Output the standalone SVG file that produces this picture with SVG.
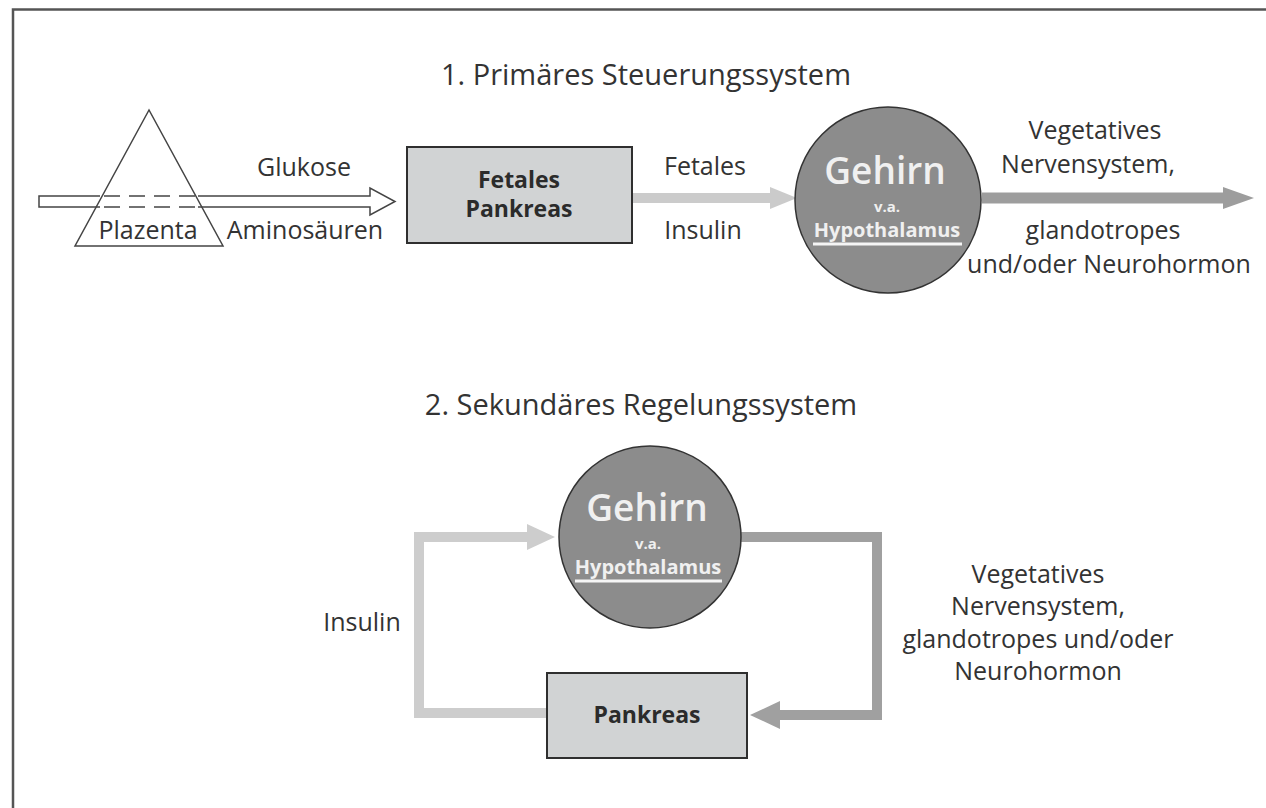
<svg xmlns="http://www.w3.org/2000/svg" width="1266" height="808" viewBox="0 0 1266 808">
  <style>
    .lbl { font-family: "Open Sans", "Noto Sans", sans-serif; font-size: 25px; fill: #333; }
    .title { font-family: "Open Sans", "Noto Sans", sans-serif; font-size: 29px; fill: #333; }
    .boxtxt { font-family: "Open Sans", "Noto Sans", sans-serif; font-size: 23px; font-weight: 700; fill: #2b2b2b; }
    .box { fill: #d1d3d4; stroke: #2f2f2f; stroke-width: 2; }
    .brain { fill: #8c8c8c; stroke: #333; stroke-width: 1.5; }
    .bt1 { font-family: "Open Sans", "Noto Sans", sans-serif; font-size: 37px; font-weight: 600; fill: #f0f0f0; }
    .bt2 { font-family: "Open Sans", "Noto Sans", sans-serif; font-size: 15px; font-weight: 700; fill: #f0f0f0; }
    .bt3 { font-family: "Open Sans", "Noto Sans", sans-serif; font-size: 20px; font-weight: 700; fill: #f0f0f0; }
    .uline { stroke: #f5f5f5; stroke-width: 3; }
    .outline { fill: none; stroke: #444; stroke-width: 1.5; }
    .light { fill: none; stroke: #cdcdcd; stroke-width: 10; stroke-linejoin: miter; }
    .dark { fill: none; stroke: #a0a0a0; stroke-width: 10; stroke-linejoin: miter; }
  </style>

  <!-- frame -->
  <rect x="13" y="9.5" width="1300" height="900" fill="none" stroke="#555" stroke-width="2.5"/>

  <!-- section titles -->
  <text class="title" x="646" y="85" text-anchor="middle">1. Primäres Steuerungssystem</text>
  <text class="title" x="641" y="415" text-anchor="middle">2. Sekundäres Regelungssystem</text>

  <!-- connectors -->
  <g id="connectors">
    <!-- hollow double-line arrow through the placenta -->
    <g id="nutrient-arrow">
      <path class="outline" d="M100,196 H39 V207 H100"/>
      <path class="outline" d="M104,196 H198 M104,207 H198" stroke-dasharray="16 9"/>
      <path class="outline" d="M198,196 H370 V188 L395,201.5 L370,215 V207 H198"/>
    </g>
    <!-- fetal insulin -->
    <line x1="633" y1="198" x2="772" y2="198" stroke="#cbcbcb" stroke-width="10"/>
    <polygon points="770,187 797,198 770,209" fill="#cbcbcb"/>
    <!-- output of the brain -->
    <line x1="982" y1="198" x2="1226" y2="198" stroke="#9d9d9d" stroke-width="11"/>
    <polygon points="1223,187 1254,198 1223,209" fill="#9d9d9d"/>
    <!-- feedback loop: insulin to brain -->
    <polyline class="light" points="547,713 419,713 419,537 530,537"/>
    <polygon points="527,524 555,537 527,550" fill="#cdcdcd"/>
    <!-- feedback loop: brain to pancreas -->
    <polyline class="dark" points="739,537 877,537 877,715 778,715"/>
    <polygon points="780,701 750,715 780,729" fill="#a0a0a0"/>
  </g>

  <!-- placenta -->
  <g id="plazenta">
    <polygon points="149,110 75,246 223,246" fill="none" stroke="#444" stroke-width="1.5"/>
    <text class="lbl" x="148" y="239" text-anchor="middle">Plazenta</text>
  </g>

  <!-- edge labels -->
  <text class="lbl" x="304" y="176" text-anchor="middle">Glukose</text>
  <text class="lbl" x="305" y="239" text-anchor="middle">Aminosäuren</text>
  <text class="lbl" x="705" y="175" text-anchor="middle">Fetales</text>
  <text class="lbl" x="703" y="239" text-anchor="middle">Insulin</text>
  <text class="lbl" x="1095" y="139" text-anchor="middle">Vegetatives</text>
  <text class="lbl" x="1088" y="173" text-anchor="middle">Nervensystem,</text>
  <text class="lbl" x="1103" y="239" text-anchor="middle">glandotropes</text>
  <text class="lbl" x="1109" y="273" text-anchor="middle">und/oder Neurohormon</text>
  <text class="lbl" x="362" y="631" text-anchor="middle">Insulin</text>
  <text class="lbl" x="1038" y="583" text-anchor="middle">Vegetatives</text>
  <text class="lbl" x="1038" y="615" text-anchor="middle">Nervensystem,</text>
  <text class="lbl" x="1038" y="648" text-anchor="middle">glandotropes und/oder</text>
  <text class="lbl" x="1038" y="680" text-anchor="middle">Neurohormon</text>

  <!-- fetal pancreas -->
  <g id="fetales-pankreas">
    <rect class="box" x="407" y="147" width="225" height="96"/>
    <text class="boxtxt" x="519" y="188" text-anchor="middle">Fetales</text>
    <text class="boxtxt" x="519" y="217" text-anchor="middle">Pankreas</text>
  </g>

  <!-- brain, primary system -->
  <g id="gehirn-1">
    <circle class="brain" cx="888" cy="200" r="93"/>
    <text class="bt1" x="885" y="184" text-anchor="middle">Gehirn</text>
    <text class="bt2" x="887" y="212" text-anchor="middle">v.a.</text>
    <text class="bt3" x="887" y="237" text-anchor="middle">Hypothalamus</text>
    <line class="uline" x1="813" y1="244" x2="962" y2="244"/>
  </g>

  <!-- brain, secondary system -->
  <g id="gehirn-2">
    <circle class="brain" cx="650" cy="537" r="91"/>
    <text class="bt1" x="647" y="521" text-anchor="middle">Gehirn</text>
    <text class="bt2" x="648" y="549" text-anchor="middle">v.a.</text>
    <text class="bt3" x="648" y="574" text-anchor="middle">Hypothalamus</text>
    <line class="uline" x1="575" y1="581" x2="722" y2="581"/>
  </g>

  <!-- pancreas, secondary system -->
  <g id="pankreas">
    <rect class="box" x="547" y="673" width="200" height="85"/>
    <text class="boxtxt" x="647" y="723" text-anchor="middle">Pankreas</text>
  </g>
</svg>
